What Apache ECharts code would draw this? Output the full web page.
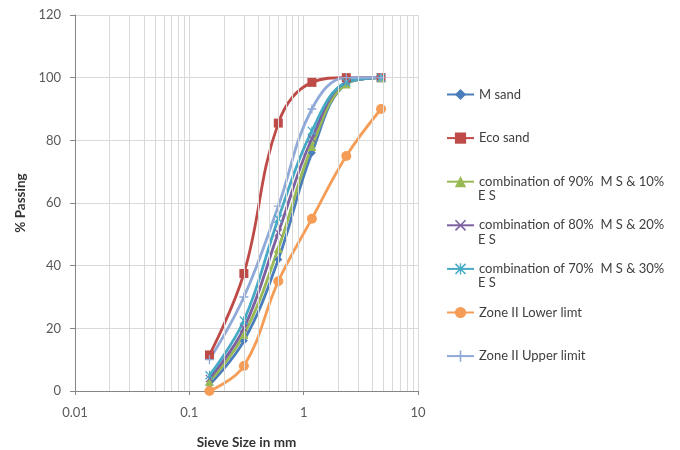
<!DOCTYPE html>
<html>
<head>
<meta charset="utf-8">
<script src="https://cdn.jsdelivr.net/npm/echarts@6/dist/echarts.min.js"></script>
<style>
html,body{margin:0;padding:0;background:#fff;}
#chart{width:680px;height:450px;}
</style>
</head>
<body>
<div id="chart"></div>
<script>
// ---- data ----
var sieveSizes = [0.15, 0.3, 0.6, 1.18, 2.36, 4.75];
var mSand     = [2, 16, 42, 76, 98, 100];
var ecoSand   = [11.5, 37.5, 85.5, 98.5, 100, 100];
var mix90     = [3, 18, 45.5, 78, 98, 100];
var mix80     = [4, 20, 50.5, 80.5, 98.5, 100];
var mix70     = [5, 22.5, 55, 83, 98.5, 100];
var zoneLower = [0, 8, 35, 55, 75, 90];
var zoneUpper = [10, 30, 59, 90, 100, 100];
var seriesNames = [
  'M sand',
  'Eco sand',
  'combination of 90%  M S & 10%',
  'combination of 80%  M S & 20%',
  'combination of 70%  M S & 30%',
  'Zone II Lower limt',
  'Zone II Upper limit'
];
var secondLines = ['', '', 'E S', 'E S', 'E S', '', ''];
var yTicks = [0, 20, 40, 60, 80, 100, 120];
var xMajorTicks = [0.01, 0.1, 1, 10];
// minor log gridlines (2..9 within each decade)
var xMinorTicks = [];
[0.01, 0.1, 1].forEach(function (d) {
  for (var k = 2; k <= 9; k++) xMinorTicks.push(+(d * k).toPrecision(3));
});

var colors = ['#4a7ebb', '#be4b48', '#98b954', '#7d60a0', '#46aac4', '#f59d56', '#8fa9d8'];
var symbols = [
  'diamond',
  'rect',
  'triangle',
  'path://M1,0L5,4L9,0L10,1L6,5L10,9L9,10L5,6L1,10L0,9L4,5L0,1Z',
  'path://M1,0L5,4L9,0L10,1L6,5L10,9L9,10L5,6L1,10L0,9L4,5L0,1Z M4.4,0H5.6V10H4.4Z',
  'circle',
  'path://M4.3,0H5.7V4.3H10V5.7H5.7V10H4.3V5.7H0V4.3H4.3Z'
];
var symbolSizes = [8, 9, 9, 8, 9, 10, 9];
var valueSets = [mSand, ecoSand, mix90, mix80, mix70, zoneLower, zoneUpper];

function pairs(ys) {
  return sieveSizes.map(function (x, i) { return [x, ys[i]]; });
}

var FONT = 'Lato, "Liberation Sans", sans-serif';

var series = [{
  type: 'line',
  name: '_grid',
  data: [],
  z: 1,
  silent: true,
  markLine: {
    silent: true,
    symbol: 'none',
    label: { show: false },
    lineStyle: { color: '#d9d9d9', width: 1, type: 'solid' },
    emphasis: { disabled: true },
    animation: false,
    data: xMinorTicks.map(function (v) { return { xAxis: v }; })
  }
}];

valueSets.forEach(function (vals, i) {
  series.push({
    type: 'line',
    name: seriesNames[i],
    data: pairs(vals),
    smooth: 0.4,
    symbol: symbols[i],
    symbolSize: symbolSizes[i],
    showAllSymbol: true,
    lineStyle: { width: 2.8, color: colors[i] },
    itemStyle: { color: colors[i], borderWidth: 0 },
    emphasis: { disabled: true },
    z: 2
  });
});

var legendFirst = 95, legendStep = 43.4;
var graphics = [];
secondLines.forEach(function (t, i) {
  if (!t) return;
  graphics.push({
    type: 'text',
    left: 478,
    top: legendFirst + i * legendStep + 16 - 8,
    style: { text: t, font: '13px ' + FONT, fill: '#404040' }
  });
});

var option = {
  animation: false,
  backgroundColor: '#fff',
  color: colors,
  grid: { left: 75, right: 262, top: 15, bottom: 59, containLabel: false, outerBoundsMode: 'none' },
  legend: {
    orient: 'vertical',
    left: 446,
    top: legendFirst - 7,
    padding: 0,
    itemWidth: 27,
    itemHeight: 14,
    itemGap: legendStep - 12.8,
    data: seriesNames,
    textStyle: { fontFamily: FONT, fontSize: 13, color: '#404040' },
    selectedMode: false
  },
  xAxis: {
    type: 'log',
    logBase: 10,
    min: xMajorTicks[0],
    max: xMajorTicks[xMajorTicks.length - 1],
    name: 'Sieve Size in mm',
    nameLocation: 'middle',
    nameGap: 45,
    nameTextStyle: { fontFamily: FONT, fontSize: 13.5, fontWeight: 'bold', color: '#333' },
    axisLine: { show: true, lineStyle: { color: '#868686', width: 1 } },
    axisTick: { show: true, inside: false, length: 4, lineStyle: { color: '#868686' } },
    axisLabel: { fontFamily: FONT, fontSize: 13, color: '#595959', margin: 15,
      formatter: function (v) { return String(+v.toPrecision(3)); } },
    splitLine: { show: true, lineStyle: { color: '#d9d9d9', width: 1 } },
    minorTick: { show: false },
    minorSplitLine: { show: false }
  },
  yAxis: {
    type: 'value',
    min: yTicks[0],
    max: yTicks[yTicks.length - 1],
    interval: 20,
    name: '% Passing',
    nameLocation: 'middle',
    nameGap: 47,
    nameRotate: 90,
    nameTextStyle: { fontFamily: FONT, fontSize: 13.5, fontWeight: 'bold', color: '#333' },
    axisLine: { show: true, lineStyle: { color: '#868686', width: 1 } },
    axisTick: { show: true, inside: false, length: 5, lineStyle: { color: '#868686' } },
    axisLabel: { fontFamily: FONT, fontSize: 13, color: '#595959', margin: 14 },
    splitLine: { show: true, lineStyle: { color: '#d9d9d9', width: 1 } }
  },
  graphic: graphics,
  series: series
};

var chart = echarts.init(document.getElementById('chart'), null, { renderer: 'canvas' });
chart.setOption(option);
</script>
</body>
</html>
